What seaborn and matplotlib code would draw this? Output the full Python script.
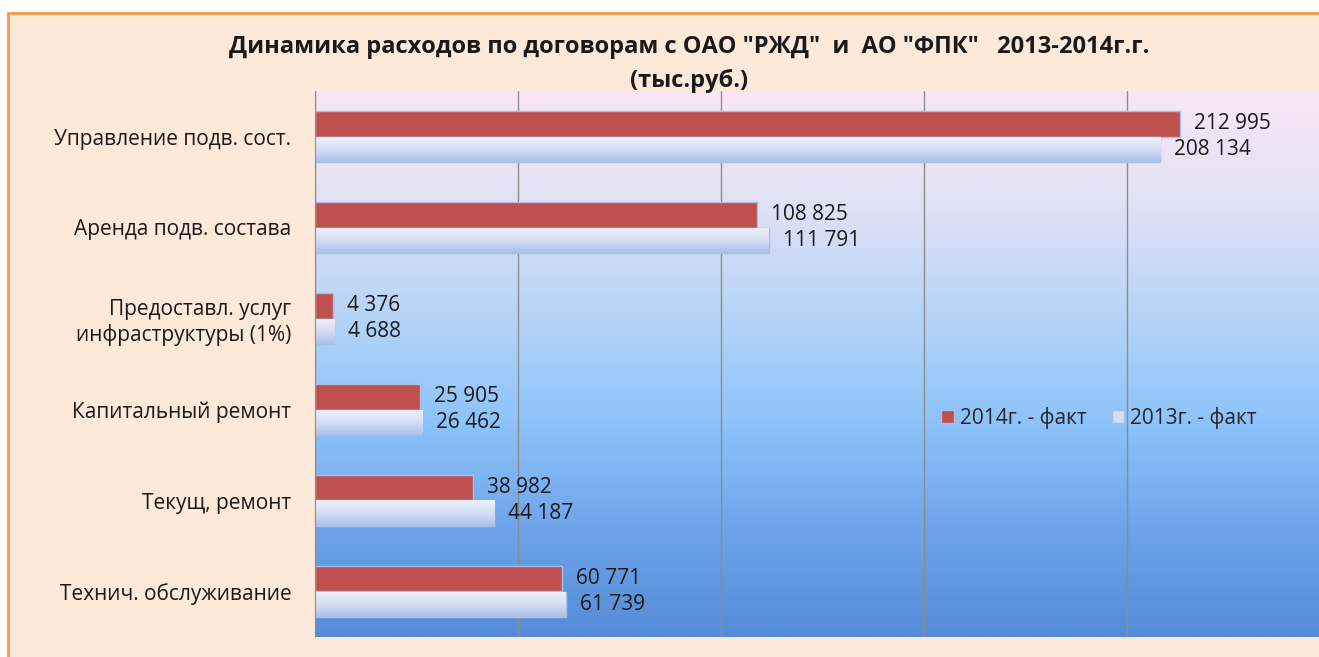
import numpy as np
import pandas as pd
import matplotlib
matplotlib.use("Agg")
import matplotlib.pyplot as plt
import seaborn as sns
from matplotlib.colors import LinearSegmentedColormap
from matplotlib.patches import Rectangle

# data (тыс.руб.)
categories = [
    "Управление подв. сост.",
    "Аренда подв. состава",
    "Предоставл. услуг\nинфраструктуры (1%)",
    "Капитальный ремонт",
    "Текущ, ремонт",
    "Технич. обслуживание",
]
fact_2014 = [212995, 108825, 4376, 25905, 38982, 60771]
fact_2013 = [208134, 111791, 4688, 26462, 44187, 61739]
series_names = ["2014г. - факт", "2013г. - факт"]

title = 'Динамика расходов по договорам с ОАО "РЖД"  и  АО "ФПК"   2013-2014г.г.\n(тыс.руб.)'

df = pd.DataFrame({
    "category": categories * 2,
    "value": fact_2014 + fact_2013,
    "series": [series_names[0]] * len(categories) + [series_names[1]] * len(categories),
})

sns.set_style("white")
plt.rcParams["font.family"] = ["Open Sans", "DejaVu Sans"]

W, H = 1319, 657
fig = plt.figure(figsize=(W / 100, H / 100), dpi=100)
fig.patch.set_facecolor("white")

# peach chart area with orange border
fig.patches.append(Rectangle((8 / W, -0.05), 1.1, 1 - 13 / H + 0.05, transform=fig.transFigure,
                             facecolor="#fde9d9", edgecolor="#f79646", linewidth=2, zorder=0))

ax = fig.add_axes([315 / W, 1 - 637 / H, 1 - 315 / W, (637 - 91) / H])
ax.set_zorder(1)

palette = {series_names[0]: "#c0504d", series_names[1]: "#d4def3"}
sns.barplot(data=df, y="category", x="value", hue="series", hue_order=series_names,
            palette=palette, orient="h", width=0.56, gap=0, saturation=1,
            edgecolor="#a7bfe6", linewidth=1, ax=ax, zorder=3)

xmax = (W - 315) / 203 * 50000
ax.set_xlim(0, xmax)
ylim = ax.get_ylim()

# gradient background of the plot area
bg_cmap = LinearSegmentedColormap.from_list("bg", [
    (0.0, "#f9e6f5"), (0.2, "#e2e2f5"), (0.42, "#b4d3f6"),
    (0.6, "#8ec4fa"), (0.8, "#6ea5ea"), (1.0, "#548cd6")])
grad = np.linspace(0, 1, 256).reshape(-1, 1)
ax.imshow(grad, cmap=bg_cmap, aspect="auto", extent=[0, xmax, ylim[0], ylim[1]],
          origin="upper", zorder=0)
ax.set_ylim(ylim)

# gradient fill for the 2013 bars
bar_cmap = LinearSegmentedColormap.from_list("bar", ["#eef1fb", "#d5def3", "#a9c0e8"])
for patch in ax.containers[1]:
    x0, y0 = patch.get_x(), patch.get_y()
    w, h = patch.get_width(), patch.get_height()
    im = ax.imshow(grad, cmap=bar_cmap, aspect="auto",
                   extent=[x0, x0 + w, y0 + h, y0], origin="upper", zorder=3.5)
    im.set_clip_path(patch)

# value labels
for container in ax.containers:
    labels = [f"{int(p.get_width()):,}".replace(",", " ") for p in container]
    ax.bar_label(container, labels=labels, padding=10, fontsize=15, color="#1a1a1a", zorder=5)

ax.set_xticks(np.arange(0, xmax, 50000))
ax.xaxis.grid(True, color="#8c8c8c", linewidth=1)
ax.set_axisbelow(False)
for line in ax.get_xgridlines():
    line.set_zorder(1)
ax.tick_params(axis="x", labelbottom=False, length=0)
ax.tick_params(axis="y", length=0, pad=17, labelsize=15, labelcolor="#1a1a1a")
ax.set_xlabel("")
ax.set_ylabel("")
for side in ["top", "right", "bottom"]:
    ax.spines[side].set_visible(False)
ax.spines["left"].set_color("#8c8c8c")
ax.spines["left"].set_zorder(4)

handles, lbls = ax.get_legend_handles_labels()
ax.legend(handles, lbls, loc="center", bbox_to_anchor=(1099 / W, 1 - 418 / H),
          bbox_transform=fig.transFigure, ncol=2, frameon=False, fontsize=15,
          handlelength=0.6, handleheight=0.6, handletextpad=0.3, columnspacing=1.2)

fig.text(689 / W, 1 - 64 / H, title, ha="center", va="center", fontsize=17,
         fontweight="bold", color="#1a1a1a", linespacing=1.55)

fig.savefig("out.png", dpi=100)
